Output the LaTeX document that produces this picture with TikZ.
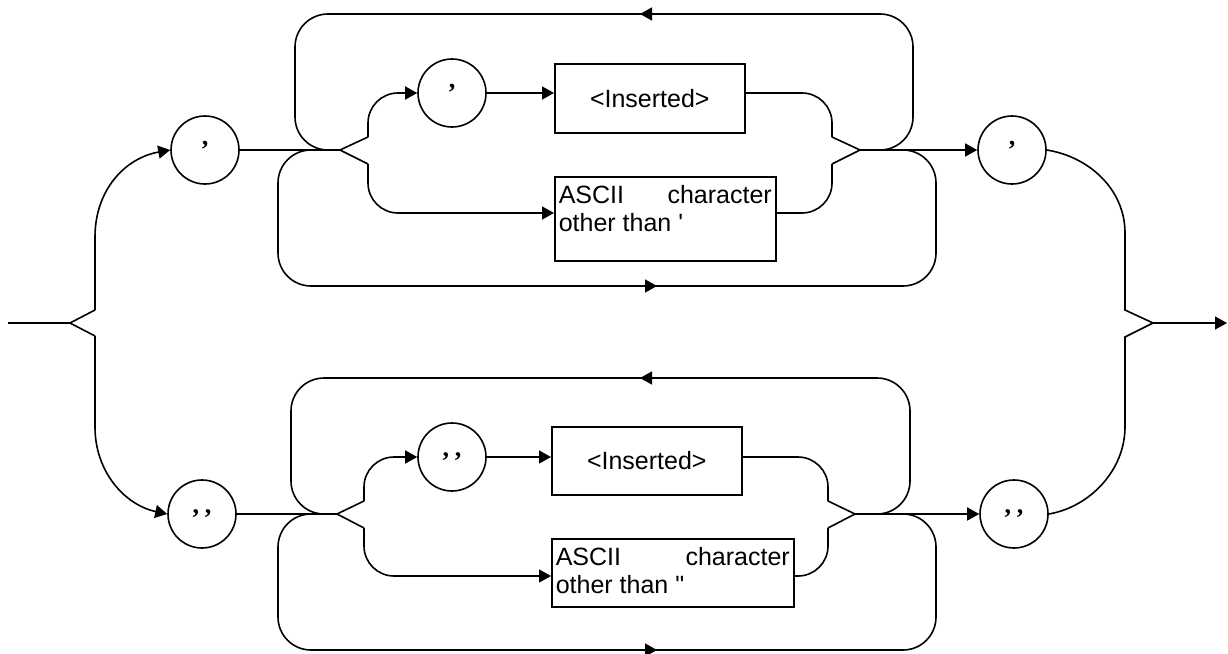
\documentclass[tikz,border=0pt]{standalone}
\usepackage{fontspec}
\setmainfont{Liberation Sans}
\newfontfamily\quotefont{Liberation Serif}
\usetikzlibrary{arrows.meta}

\tikzset{
  syn/.style={line width=1.6pt},
  arr/.style={syn,-{Triangle[length=12pt,width=13pt]}},
  term/.style={circle,draw,line width=1.6pt,minimum size=68pt,inner sep=0pt,
    font=\quotefont\bfseries\fontsize{26}{26}\selectfont},
  nterm/.style={draw,line width=1.6pt,inner sep=0pt,anchor=north west,
    font=\fontsize{25}{28}\selectfont},
}
\newcommand{\charbox}[3]{\parbox[c][#1][t]{#2}{\fontsize{25}{28}\selectfont
  \rule{0pt}{27pt}ASCII\hfill character\\other than #3}}

\begin{document}
\begin{tikzpicture}[x=1pt,y=-1pt]
\useasboundingbox (0,0) rectangle (1228,653);

%% terminals
  \node[term] (sq1) at (205,150) {’};
  \node[term] (sqi) at (452,93)  {’};
  \node[term] (sq2) at (1012,150) {’};
  \node[term] (dq1) at (202,514) {,\hspace{6pt},};
  \node[term] (dqi) at (452,457) {,\hspace{6pt},};
  \node[term] (dq2) at (1014,514) {,\hspace{6pt},};

%% boxes
  \node[nterm,minimum width=190pt,minimum height=69pt] (insS) at (554,63) {<Inserted>};
  \node[nterm,inner xsep=4pt] (ascS) at (554,176) {\charbox{84pt}{213pt}{\textquotesingle}};
  \node[nterm,minimum width=190pt,minimum height=68pt] (insD) at (551,426) {<Inserted>};
  \node[nterm,inner xsep=4pt] (ascD) at (551,538) {\charbox{68pt}{234pt}{\textquotedbl}};

%% junctions
  \coordinate (start) at (8,323);   \coordinate (jin) at (70,323);
  \coordinate (jout) at (1153,323); \coordinate (stop) at (1227,323);
  \coordinate (sa) at (340,150);    \coordinate (sb) at (860,150);
  \coordinate (da) at (337,514);    \coordinate (db) at (855,514);

%% entry
  \draw[syn] (start) -- (jin) -- (95,310) (jin) -- (95,336);
  \draw[arr] (95,310) -- (95,237) .. controls (95,190) and (125,158) .. (sq1.west);
  \draw[arr] (95,336) -- (95,427) .. controls (95,472) and (125,505) .. (dq1.west);

%% exit
  \draw[syn] (sq2.east) .. controls (1090,157) and (1125,190) .. (1125,233) -- (1125,310) -- (jout);
  \draw[syn] (dq2.east) .. controls (1090,507) and (1125,470) .. (1125,427) -- (1125,337) -- (jout);
  \draw[arr] (jout) -- (stop);

%% single quote path
  \draw[syn] (sq1) -- (sa);
  \draw[syn] (368,137) -- (sa) -- (368,164);
  \draw[arr,rounded corners=30pt] (368,137) |- (sqi.west);
  \draw[arr] (sqi.east) -- (insS.west |- sqi.east);
  \draw[syn,rounded corners=30pt] (insS.east |- sqi.east) -| (832,137);
  \draw[arr,rounded corners=30pt] (368,164) |- (ascS.west |- 0,213);
  \draw[syn,rounded corners=30pt] (ascS.east |- 0,213) -| (832,164);
  \draw[syn] (832,137) -- (sb) -- (832,164);
  \draw[arr] (sb) -- (sq2);
  % loops
  \draw[arr,rounded corners=33pt] (sb) -| (913,14) -- (640,14);
  \draw[syn,rounded corners=33pt] (645,14) -| (295,150) -- (sa);
  \draw[arr,rounded corners=33pt] (sa) -| (278,286) -- (657,286);
  \draw[syn,rounded corners=33pt] (650,286) -| (936,150) -- (sb);

%% double quote path
  \draw[syn] (dq1) -- (da);
  \draw[syn] (364,501) -- (da) -- (364,528);
  \draw[arr,rounded corners=30pt] (364,501) |- (dqi.west);
  \draw[arr] (dqi.east) -- (insD.west |- dqi.east);
  \draw[syn,rounded corners=30pt] (insD.east |- dqi.east) -| (828,501);
  \draw[arr,rounded corners=30pt] (364,528) |- (ascD.west |- 0,576);
  \draw[syn,rounded corners=30pt] (ascD.east |- 0,576) -| (828,528);
  \draw[syn] (828,501) -- (db) -- (828,528);
  \draw[arr] (db) -- (dq2);
  % loops
  \draw[arr,rounded corners=33pt] (db) -| (910,378) -- (640,378);
  \draw[syn,rounded corners=33pt] (645,378) -| (291,514) -- (da);
  \draw[arr,rounded corners=33pt] (da) -| (278,650) -- (657,650);
  \draw[syn,rounded corners=33pt] (650,650) -| (936,514) -- (db);
\end{tikzpicture}
\end{document}
